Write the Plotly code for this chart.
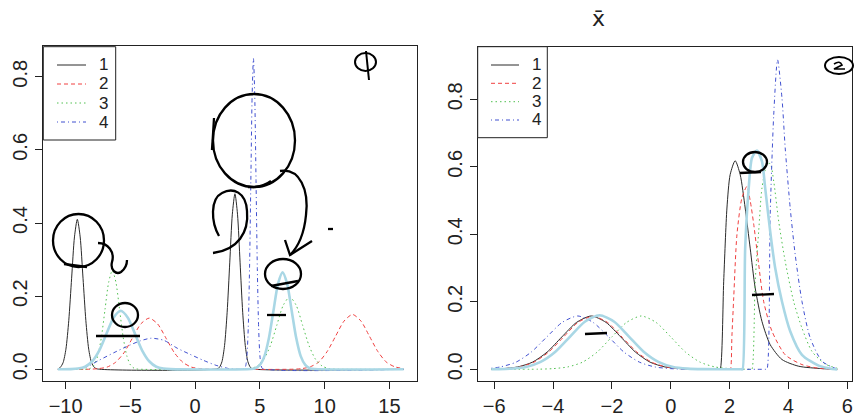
import plotly.graph_objects as go

W, H = 854, 418

# ---------------- left panel (phi) ----------------
l1_x = [-10.6, -10.42, -10.2, -9.98, -9.76, -9.54, -9.32, -9.1, -8.88, -8.66, -8.44, -8.22, -8.0, -7.78, -7.56,
        1.67, 1.87, 2.07, 2.27, 2.47, 2.67, 2.87, 3.07, 3.27, 3.47, 3.67, 3.87, 4.07, 4.27, 4.47, 16.1]
l1_y = [0.001, 0.005, 0.018, 0.055, 0.133, 0.249, 0.362, 0.41, 0.362, 0.249, 0.133, 0.055, 0.018, 0.005, 0.001,
        0.001, 0.005, 0.021, 0.065, 0.156, 0.291, 0.424, 0.48, 0.424, 0.291, 0.156, 0.065, 0.021, 0.005, 0.001, 0.0]

l2_x = [-10.6, -8.1, -7.45, -6.8, -6.15, -5.5, -4.85, -4.2, -3.55, -2.9, -2.25, -1.6, -0.95, -0.3, 0.35, 1.0,
        7.6, 8.25, 8.9, 9.55, 10.2, 10.85, 11.5, 12.15, 12.8, 13.45, 14.1, 14.75, 15.4, 16.1]
l2_y = [0.0, 0.0003, 0.002, 0.006, 0.019, 0.045, 0.085, 0.124, 0.14, 0.124, 0.085, 0.045, 0.019, 0.006, 0.002, 0.0003,
        0.0003, 0.002, 0.007, 0.020, 0.049, 0.091, 0.132, 0.15, 0.132, 0.091, 0.049, 0.020, 0.007, 0.002]

l3_x = [-10.6, -8.36, -8.08, -7.8, -7.52, -7.24, -6.96, -6.68, -6.4, -6.12, -5.84, -5.56, -5.28, -5.0, -4.72, -4.44,
        3.8, 4.3, 4.8, 5.3, 5.8, 6.3, 6.8, 7.3, 7.8, 8.3, 8.8, 9.3, 9.8, 10.3, 10.8, 16.1]
l3_y = [0.0, 0.0006, 0.003, 0.012, 0.037, 0.088, 0.164, 0.238, 0.27, 0.238, 0.164, 0.088, 0.037, 0.012, 0.003, 0.0006,
        0.0004, 0.002, 0.009, 0.027, 0.064, 0.120, 0.175, 0.198, 0.175, 0.120, 0.064, 0.027, 0.009, 0.002, 0.0004, 0.0]

l4_x = [-10.6, -9.5, -8.5, -7.4, -6.3, -5.3, -4.3, -3.4, -2.4, -1.4, -0.4, 0.6, 1.6, 2.6, 3.2,
        3.8, 3.9, 4.0, 4.1, 4.2, 4.3, 4.4, 4.5, 4.6, 4.7, 4.8, 4.9, 5.0, 5.1, 5.2, 16.1]
l4_y = [0.0, 0.001, 0.005, 0.025, 0.045, 0.062, 0.077, 0.085, 0.079, 0.058, 0.041, 0.025, 0.011, 0.002, 0.0,
        0.002, 0.009, 0.037, 0.115, 0.276, 0.516, 0.75, 0.85, 0.75, 0.516, 0.276, 0.115, 0.037, 0.009, 0.002, 0.0]

l5_x = [-10.6, -9.6, -9.05, -8.5, -7.95, -7.4, -6.85, -6.3, -5.75, -5.2, -4.65, -4.1, -3.55, -3.0, -2.45, -1.9,
        4.3, 4.65, 5.0, 5.35, 5.7, 6.05, 6.4, 6.75, 7.1, 7.45, 7.8, 8.15, 8.5, 8.85, 9.2, 16.1]
l5_y = [0.0, 0.0004, 0.002, 0.007, 0.022, 0.052, 0.097, 0.141, 0.16, 0.141, 0.097, 0.052, 0.022, 0.007, 0.002, 0.0004,
        0.0006, 0.003, 0.012, 0.036, 0.086, 0.161, 0.234, 0.265, 0.234, 0.161, 0.086, 0.036, 0.012, 0.003, 0.0006, 0.0]

# ---------------- right panel (2) ----------------
r1_x = [-6.1, -5.7, -5.2, -4.7, -4.2, -3.7, -3.2, -2.7, -2.2, -1.7, -1.2, -0.7, -0.2, 0.3, 0.8,
        1.64, 1.68, 1.80, 1.91, 2.02, 2.19, 2.36, 2.53, 2.70, 2.87, 3.10, 3.38, 3.78, 4.35, 5.14, 5.66]
r1_y = [0.0005, 0.002, 0.007, 0.021, 0.051, 0.096, 0.139, 0.158, 0.139, 0.096, 0.051, 0.021, 0.007, 0.002, 0.0003,
        0.0, 0.0, 0.261, 0.478, 0.577, 0.618, 0.577, 0.478, 0.359, 0.241, 0.142, 0.073, 0.029, 0.009, 0.002, 0.0]

r2_x = [-6.1, -5.65, -5.15, -4.65, -4.15, -3.65, -3.15, -2.65, -2.15, -1.65, -1.15, -0.65, -0.15, 0.35, 0.85,
        2.0, 2.03, 2.08, 2.14, 2.25, 2.42, 2.59, 2.70, 2.82, 2.99, 3.16, 3.44, 3.89, 4.46, 5.03, 5.66]
r2_y = [0.0005, 0.002, 0.007, 0.021, 0.051, 0.095, 0.139, 0.157, 0.139, 0.095, 0.051, 0.021, 0.007, 0.002, 0.0003,
        0.0, 0.0, 0.10, 0.211, 0.399, 0.508, 0.542, 0.50, 0.43, 0.31, 0.20, 0.113, 0.043, 0.014, 0.003, 0.0]

r3_x = [-6.1, -4.5, -4.0, -3.5, -3.0, -2.5, -2.0, -1.5, -1.0, -0.5, 0.0, 0.5, 1.0, 1.5, 2.0, 2.5,
        2.72, 2.76, 2.87, 2.99, 3.10, 3.27, 3.38, 3.50, 3.67, 3.89, 4.18, 4.46, 4.80, 5.24, 5.66]
r3_y = [0.0, 0.0003, 0.002, 0.007, 0.021, 0.051, 0.096, 0.139, 0.158, 0.139, 0.096, 0.051, 0.021, 0.007, 0.002, 0.0003,
        0.0, 0.0, 0.26, 0.41, 0.537, 0.606, 0.61, 0.557, 0.438, 0.32, 0.20, 0.122, 0.053, 0.016, 0.003]

r4_x = [-6.1, -5.79, -5.26, -4.74, -4.21, -3.69, -3.16, -2.64, -2.11, -1.59, -1.06, -0.54, -0.01, 0.52,
        3.23, 3.27, 3.38, 3.50, 3.63, 3.78, 3.89, 4.06, 4.23, 4.46, 4.74, 5.14, 5.59, 5.66]
r4_y = [0.003, 0.007, 0.021, 0.051, 0.096, 0.139, 0.158, 0.139, 0.096, 0.051, 0.021, 0.007, 0.002, 0.0003,
        0.0, 0.0, 0.458, 0.754, 0.917, 0.804, 0.656, 0.478, 0.34, 0.201, 0.093, 0.024, 0.003, 0.002]

r5_x = [-6.1, -5.92, -5.42, -4.92, -4.42, -3.92, -3.42, -2.92, -2.42, -1.92, -1.42, -0.92, -0.42, 0.08, 0.58, 1.08,
        2.40, 2.44, 2.53, 2.65, 2.76, 2.93, 3.10, 3.21, 3.38, 3.55, 3.78, 4.06, 4.46, 5.03, 5.59, 5.66]
r5_y = [0.0, 0.0004, 0.002, 0.007, 0.022, 0.052, 0.097, 0.141, 0.16, 0.141, 0.097, 0.052, 0.022, 0.007, 0.002, 0.0004,
        0.0, 0.0, 0.359, 0.537, 0.626, 0.648, 0.616, 0.537, 0.409, 0.300, 0.201, 0.113, 0.043, 0.011, 0.0, 0.0]

legend_labels = ["1", "2", "3", "4"]
left_xticks = [-10, -5, 0, 5, 10, 15]
right_xticks = [-6, -4, -2, 0, 2, 4, 6]
yticks = [0.0, 0.2, 0.4, 0.6, 0.8]

COLORS = ["#2a2a2a", "#f04040", "#50c050", "#4050d0"]
DASHES = ["solid", "4px,3px", "1.5px,3px", "1px,3px,4px,3px"]
LIGHT = "#a9d7e5"

fig = go.Figure()

def add(x, y, xa, ya, color, width, dash):
    fig.add_trace(go.Scatter(x=x, y=y, mode="lines", xaxis=xa, yaxis=ya,
                             line=dict(color=color, width=width, dash=dash, shape="spline", smoothing=0.7),
                             showlegend=False, hoverinfo="skip"))

for (x, y), c, d in zip([(l1_x, l1_y), (l2_x, l2_y), (l3_x, l3_y), (l4_x, l4_y)], COLORS, DASHES):
    add(x, y, "x", "y", c, 1, d)
add(l5_x, l5_y, "x", "y", LIGHT, 2.6, "solid")
for (x, y), c, d in zip([(r1_x, r1_y), (r2_x, r2_y), (r3_x, r3_y), (r4_x, r4_y)], COLORS, DASHES):
    add(x, y, "x2", "y2", c, 1, d)
add(r5_x, r5_y, "x2", "y2", LIGHT, 2.6, "solid")

FONT = dict(family="Liberation Sans, Arial, sans-serif", size=20, color="#222")

def px(xp):
    return xp / W

def py(yp):
    return 1 - yp / H

axis_common = dict(showgrid=False, zeroline=False, showline=True, mirror=True, linecolor="#222", linewidth=1,
                   ticks="outside", ticklen=7, tickcolor="#222", tickfont=FONT, automargin=False)

fig.update_layout(
    width=W, height=H, margin=dict(l=0, r=0, t=0, b=0, autoexpand=False),
    paper_bgcolor="white", plot_bgcolor="white", showlegend=False,
    xaxis=dict(domain=[px(43), px(417)], range=[-11.75, 17.13], tickvals=left_xticks, anchor="y", **axis_common),
    yaxis=dict(domain=[py(381), py(46)], range=[-0.032, 0.884], tickvals=yticks, tickformat=".1f",
               tickangle=-90, anchor="x", **axis_common),
    xaxis2=dict(domain=[px(477.7), px(851.7)], range=[-6.56, 6.15], tickvals=right_xticks, anchor="y2", **axis_common),
    yaxis2=dict(domain=[py(381), py(46.7)], range=[-0.0347, 0.956], tickvals=yticks, tickformat=".1f",
                tickangle=-90, anchor="x2", **axis_common),
)

shapes = []
annotations = []

# legends drawn in R style
def legend(box, line_x, text_x, rows):
    x0, y0, x1, y1 = box
    shapes.append(dict(type="rect", xref="paper", yref="paper", x0=px(x0), x1=px(x1), y0=py(y0), y1=py(y1),
                       line=dict(color="#222", width=1), fillcolor="white", layer="above"))
    for lab, c, d, ry in zip(legend_labels, COLORS, DASHES, rows):
        shapes.append(dict(type="line", xref="paper", yref="paper", x0=px(line_x[0]), x1=px(line_x[1]),
                           y0=py(ry), y1=py(ry), line=dict(color=c, width=1, dash=d)))
        annotations.append(dict(xref="paper", yref="paper", x=px(text_x), y=py(ry), text=lab, showarrow=False,
                                xanchor="center", yanchor="middle", font=dict(family=FONT["family"], size=17, color="#222")))

legend((43.3, 46.7, 115.7, 140), (57, 86), 103, [65, 84, 103, 122])
legend((477.7, 46.7, 547.3, 137.7), (491, 519), 536, [65, 83.3, 101.7, 120])

# hand-drawn annotations
def path_px(cmds):
    out = []
    for c in cmds:
        if isinstance(c, str):
            out.append(c)
        else:
            out.append(f"{px(c[0]):.5f},{py(c[1]):.5f}")
    return " ".join(out)

def ink_path(cmds, w=2.3):
    shapes.append(dict(type="path", xref="paper", yref="paper", path=path_px(cmds),
                       line=dict(color="black", width=w), layer="above"))

def ink_ellipse(x0, y0, x1, y1, w=2.3):
    shapes.append(dict(type="circle", xref="paper", yref="paper", x0=px(x0), x1=px(x1), y0=py(y1), y1=py(y0),
                       line=dict(color="black", width=w), layer="above"))

# left panel
ink_ellipse(355, 53, 376, 71, 2.0)
ink_path(["M", (366, 51), "L", (369, 80)], 2.0)
ink_ellipse(213, 94, 295, 187)
ink_path(["M", (214, 118), "L", (212, 150)])
ink_path(["M", (248, 187), "Q", (262, 188), (271, 181)])
ink_path(["M", (280, 171), "C", (300, 168), (309, 190), (306, 215), "C", (304, 236), (297, 248), (290, 255)])
ink_path(["M", (285, 240), "L", (290, 255), "L", (312, 241)])
ink_path(["M", (219, 236), "C", (211, 222), (210, 199), (222, 193), "C", (233, 187), (246, 192), (247, 211),
          "C", (249, 232), (238, 250), (213, 253)])
ink_ellipse(265, 259, 301, 289)
ink_path(["M", (271, 286), "L", (298, 281)])
ink_path(["M", (328, 229), "L", (333, 229)])
ink_path(["M", (267, 315), "L", (286, 315)])
ink_ellipse(53, 214, 104, 267)
ink_path(["M", (64, 264), "L", (87, 267)])
ink_path(["M", (98, 243), "C", (108, 243), (115, 252), (112, 262), "C", (110, 270), (116, 275), (121, 272),
          "C", (125, 269), (127, 264), (127, 260)])
ink_ellipse(112, 303, 138, 327)
ink_path(["M", (96, 336), "L", (140, 336)])

# right panel
ink_ellipse(825, 57, 853, 74, 2.0)
ink_path(["M", (834, 64), "Q", (840, 60), (842, 65), "L", (834, 69), "L", (845, 69)], 1.6)
ink_ellipse(743, 152, 767, 172)
ink_path(["M", (740, 173), "L", (761, 172)])
ink_path(["M", (752, 295), "L", (774, 294)])
ink_path(["M", (585, 334), "L", (607, 333)])

# title (x bar)
annotations.append(dict(xref="paper", yref="paper", x=px(598), y=py(19), text="x̄", showarrow=False,
                        xanchor="center", yanchor="middle",
                        font=dict(family="DejaVu Sans, sans-serif", size=22, color="#222")))

fig.update_layout(shapes=shapes, annotations=annotations)
fig.write_html("out.html", config={"displayModeBar": False},
               post_script="document.body.style.margin='0';document.body.style.overflow='hidden';")
